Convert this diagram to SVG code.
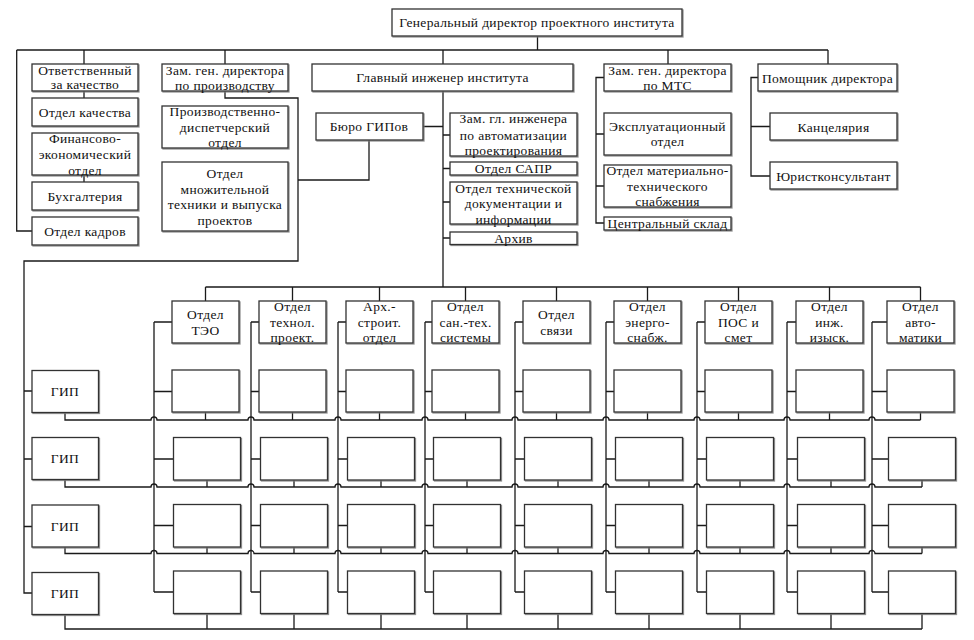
<svg xmlns="http://www.w3.org/2000/svg" width="974" height="640" viewBox="0 0 974 640">
<defs>
<filter id="sh" x="-5%" y="-5%" width="115%" height="125%"><feDropShadow dx="1" dy="1" stdDeviation="0.4" flood-color="#777" flood-opacity="0.8"/></filter>
<style>
.b{fill:#fff;stroke:#333;stroke-width:1.3;filter:url(#sh)}
.c{fill:none;stroke:#1a1a1a;stroke-width:1.3}
text{font-family:"Liberation Serif","DejaVu Serif",serif;font-size:13.5px;letter-spacing:0.35px;fill:#111;text-anchor:middle}
</style>
</defs>
<rect width="974" height="640" fill="#fff"/>
<g id="connectors" class="c">
<path d="M537.5 36V50M16.7 50H828M16.7 50V231H32M84 50V64M84 91V98M84 175V182M225 50V64M443 50V64M668 50V64M828 50V64"/>
<path d="M225 91V98H298V261H24V593H32M24 391H32M24 459H32M24 526.5H32M369 140V180H298"/>
<path d="M443 91V287M423 126.5H443M443 135H450M443 168.5H450M443 202H450M443 238H450"/>
<path d="M604 77.5H596V223H604M596 134H604M596 186H604"/>
<path d="M758 77.5H751V176H770M751 126.5H770"/>
<path d="M205.5 287H920.5M205.5 287V301M292.5 287V301M379.5 287V301M465.5 287V301M556.5 287V301M647.5 287V301M738.5 287V301M829.5 287V301M920.5 287V301"/>
<path d="M154 322V592M154 322H172M154 391.5H172M154 459H173.5M154 525.5H173.5M154 592H173.5"/>
<path d="M251 322V592M251 322H259M251 391.5H259M251 459H260.5M251 525.5H260.5M251 592H260.5"/>
<path d="M338 322V592M338 322H346M338 391.5H346M338 459H347.5M338 525.5H347.5M338 592H347.5"/>
<path d="M425 322V592M425 322H432M425 391.5H432M425 459H433.5M425 525.5H433.5M425 592H433.5"/>
<path d="M515 322V592M515 322H523M515 391.5H523M515 459H524.5M515 525.5H524.5M515 592H524.5"/>
<path d="M606 322V592M606 322H614M606 391.5H614M606 459H615.5M606 525.5H615.5M606 592H615.5"/>
<path d="M697 322V592M697 322H705M697 391.5H705M697 459H706.5M697 525.5H706.5M697 592H706.5"/>
<path d="M787 322V592M787 322H796M787 391.5H796M787 459H797.5M787 525.5H797.5M787 592H797.5"/>
<path d="M872 322V592M872 322H887M872 391.5H887M872 459H888.5M872 525.5H888.5M872 592H888.5"/>
<path d="M65 412.5V420H151A3 3 0 0 1 157 420H248A3 3 0 0 1 254 420H335A3 3 0 0 1 341 420H422A3 3 0 0 1 428 420H512A3 3 0 0 1 518 420H603A3 3 0 0 1 609 420H694A3 3 0 0 1 700 420H784A3 3 0 0 1 790 420H869A3 3 0 0 1 875 420H920.5M205.5 412V420M292.5 412V420M379.5 412V420M465.5 412V420M556.5 412V420M647.5 412V420M738.5 412V420M829.5 412V420M920.5 412V420"/>
<path d="M65 479.5V487H151A3 3 0 0 1 157 487H248A3 3 0 0 1 254 487H335A3 3 0 0 1 341 487H422A3 3 0 0 1 428 487H512A3 3 0 0 1 518 487H603A3 3 0 0 1 609 487H694A3 3 0 0 1 700 487H784A3 3 0 0 1 790 487H869A3 3 0 0 1 875 487H922M207 480V487M294 480V487M381 480V487M467 480V487M558 480V487M649 480V487M740 480V487M831 480V487M922 480V487"/>
<path d="M65 547V553.5H151A3 3 0 0 1 157 553.5H248A3 3 0 0 1 254 553.5H335A3 3 0 0 1 341 553.5H422A3 3 0 0 1 428 553.5H512A3 3 0 0 1 518 553.5H603A3 3 0 0 1 609 553.5H694A3 3 0 0 1 700 553.5H784A3 3 0 0 1 790 553.5H869A3 3 0 0 1 875 553.5H922M207 547V553.5M294 547V553.5M381 547V553.5M467 547V553.5M558 547V553.5M649 547V553.5M740 547V553.5M831 547V553.5M922 547V553.5"/>
<path d="M65 614.5V629H922M207 613.5V629M294 613.5V629M381 613.5V629M467 613.5V629M558 613.5V629M649 613.5V629M740 613.5V629M831 613.5V629M922 613.5V629"/>
</g>
<g font-family="Liberation Serif, DejaVu Serif, serif">
<g id="gen"><rect class="b" x="392" y="9" width="290" height="27"/><text x="537" y="27">Генеральный директор проектного института</text></g>
<g id="otv"><rect class="b" x="32" y="64" width="106" height="27"/><text x="85" y="75">Ответственный</text><text x="85" y="89">за качество</text></g>
<g id="kach"><rect class="b" x="32" y="98" width="106" height="28"/><text x="85" y="116.5">Отдел качества</text></g>
<g id="fin"><rect class="b" x="32" y="133" width="106" height="42"/><text x="85" y="143">Финансово-</text><text x="85" y="159">экономический</text><text x="85" y="175">отдел</text></g>
<g id="buh"><rect class="b" x="32" y="182" width="106" height="28"/><text x="85" y="200.5">Бухгалтерия</text></g>
<g id="kadr"><rect class="b" x="32" y="217" width="106" height="28"/><text x="85" y="235.5">Отдел кадров</text></g>
<g id="zamproizv"><rect class="b" x="162" y="64" width="126" height="27"/><text x="225" y="75">Зам. ген. директора</text><text x="225" y="90">по производству</text></g>
<g id="pdo"><rect class="b" x="162" y="106" width="126" height="42"/><text x="225" y="116">Производственно-</text><text x="225" y="132">диспетчерский</text><text x="225" y="147">отдел</text></g>
<g id="mnoz"><rect class="b" x="162" y="162" width="126" height="69"/><text x="225" y="178">Отдел</text><text x="225" y="194">множительной</text><text x="225" y="208.5">техники и выпуска</text><text x="225" y="224.5">проектов</text></g>
<g id="glav"><rect class="b" x="312" y="64" width="261" height="27"/><text x="442.5" y="82">Главный инженер института</text></g>
<g id="buro"><rect class="b" x="316" y="113" width="107" height="27"/><text x="369" y="131">Бюро ГИПов</text></g>
<g id="zamgl"><rect class="b" x="450" y="113" width="127" height="43"/><text x="513.5" y="123">Зам. гл. инженера</text><text x="513.5" y="139.5">по автоматизации</text><text x="513.5" y="154.5">проектирования</text></g>
<g id="sapr"><rect class="b" x="450" y="162" width="127" height="13"/><text x="513.5" y="173">Отдел САПР</text></g>
<g id="tehdok"><rect class="b" x="450" y="182" width="127" height="42"/><text x="513.5" y="193">Отдел технической</text><text x="513.5" y="208">документации и</text><text x="513.5" y="223.5">информации</text></g>
<g id="arhiv"><rect class="b" x="450" y="232" width="127" height="12.5"/><text x="513.5" y="242.5">Архив</text></g>
<g id="mts"><rect class="b" x="604" y="64" width="127" height="27"/><text x="667.5" y="75">Зам. ген. директора</text><text x="667.5" y="89.5">по МТС</text></g>
<g id="ekspl"><rect class="b" x="604" y="113" width="127" height="42"/><text x="667.5" y="130.5">Эксплуатационный</text><text x="667.5" y="146">отдел</text></g>
<g id="mat"><rect class="b" x="604" y="165" width="127" height="42"/><text x="667.5" y="175">Отдел материально-</text><text x="667.5" y="190.5">технического</text><text x="667.5" y="205.5">снабжения</text></g>
<g id="sklad"><rect class="b" x="604" y="217" width="127" height="13"/><text x="667.5" y="228">Центральный склад</text></g>
<g id="pom"><rect class="b" x="758" y="64" width="139" height="27"/><text x="827.5" y="83">Помощник директора</text></g>
<g id="kanc"><rect class="b" x="770" y="113" width="127" height="27"/><text x="833.5" y="131.5">Канцелярия</text></g>
<g id="jur"><rect class="b" x="770" y="162" width="127" height="27"/><text x="833.5" y="180.5">Юристконсультант</text></g>
<g id="d1"><rect class="b" x="172" y="301" width="67" height="42"/><text x="205.5" y="318.5">Отдел</text><text x="205.5" y="334.5">ТЭО</text></g>
<g id="d2"><rect class="b" x="259" y="301" width="67" height="42"/><text x="292.5" y="310.5">Отдел</text><text x="292.5" y="327">технол.</text><text x="292.5" y="342">проект.</text></g>
<g id="d3"><rect class="b" x="346" y="301" width="67" height="42"/><text x="379.5" y="310.5">Арх.-</text><text x="379.5" y="327">строит.</text><text x="379.5" y="342">отдел</text></g>
<g id="d4"><rect class="b" x="432" y="301" width="67" height="42"/><text x="465.5" y="310.5">Отдел</text><text x="465.5" y="327">сан.-тех.</text><text x="465.5" y="342">системы</text></g>
<g id="d5"><rect class="b" x="523" y="301" width="67" height="42"/><text x="556.5" y="318.5">Отдел</text><text x="556.5" y="334.5">связи</text></g>
<g id="d6"><rect class="b" x="614" y="301" width="67" height="42"/><text x="647.5" y="310.5">Отдел</text><text x="647.5" y="327">энерго-</text><text x="647.5" y="342">снабж.</text></g>
<g id="d7"><rect class="b" x="705" y="301" width="67" height="42"/><text x="738.5" y="310.5">Отдел</text><text x="738.5" y="327">ПОС и</text><text x="738.5" y="342">смет</text></g>
<g id="d8"><rect class="b" x="796" y="301" width="67" height="42"/><text x="829.5" y="310.5">Отдел</text><text x="829.5" y="327">инж.</text><text x="829.5" y="342">изыск.</text></g>
<g id="d9"><rect class="b" x="887" y="301" width="67" height="42"/><text x="920.5" y="310.5">Отдел</text><text x="920.5" y="327">авто-</text><text x="920.5" y="342">матики</text></g>
<g id="gip1"><rect class="b" x="32" y="370.5" width="66.5" height="42"/><text x="65" y="396">ГИП</text></g>
<g id="gip2"><rect class="b" x="32" y="437.5" width="66.5" height="42"/><text x="65" y="463">ГИП</text></g>
<g id="gip3"><rect class="b" x="32" y="505" width="66.5" height="42"/><text x="65" y="530.5">ГИП</text></g>
<g id="gip4"><rect class="b" x="32" y="572.5" width="66.5" height="42"/><text x="65" y="598">ГИП</text></g>
</g>
<g id="row1">
<rect class="b" x="172" y="370" width="67" height="42"/><rect class="b" x="259" y="370" width="67" height="42"/><rect class="b" x="346" y="370" width="67" height="42"/><rect class="b" x="432" y="370" width="67" height="42"/><rect class="b" x="523" y="370" width="67" height="42"/><rect class="b" x="614" y="370" width="67" height="42"/><rect class="b" x="705" y="370" width="67" height="42"/><rect class="b" x="796" y="370" width="67" height="42"/><rect class="b" x="887" y="370" width="67" height="42"/>
</g>
<g id="row2">
<rect class="b" x="173.5" y="437.5" width="67" height="42.5"/><rect class="b" x="260.5" y="437.5" width="67" height="42.5"/><rect class="b" x="347.5" y="437.5" width="67" height="42.5"/><rect class="b" x="433.5" y="437.5" width="67" height="42.5"/><rect class="b" x="524.5" y="437.5" width="67" height="42.5"/><rect class="b" x="615.5" y="437.5" width="67" height="42.5"/><rect class="b" x="706.5" y="437.5" width="67" height="42.5"/><rect class="b" x="797.5" y="437.5" width="67" height="42.5"/><rect class="b" x="888.5" y="437.5" width="67" height="42.5"/>
</g>
<g id="row3">
<rect class="b" x="173.5" y="504.5" width="67" height="42.5"/><rect class="b" x="260.5" y="504.5" width="67" height="42.5"/><rect class="b" x="347.5" y="504.5" width="67" height="42.5"/><rect class="b" x="433.5" y="504.5" width="67" height="42.5"/><rect class="b" x="524.5" y="504.5" width="67" height="42.5"/><rect class="b" x="615.5" y="504.5" width="67" height="42.5"/><rect class="b" x="706.5" y="504.5" width="67" height="42.5"/><rect class="b" x="797.5" y="504.5" width="67" height="42.5"/><rect class="b" x="888.5" y="504.5" width="67" height="42.5"/>
</g>
<g id="row4">
<rect class="b" x="173.5" y="571" width="67" height="42.5"/><rect class="b" x="260.5" y="571" width="67" height="42.5"/><rect class="b" x="347.5" y="571" width="67" height="42.5"/><rect class="b" x="433.5" y="571" width="67" height="42.5"/><rect class="b" x="524.5" y="571" width="67" height="42.5"/><rect class="b" x="615.5" y="571" width="67" height="42.5"/><rect class="b" x="706.5" y="571" width="67" height="42.5"/><rect class="b" x="797.5" y="571" width="67" height="42.5"/><rect class="b" x="888.5" y="571" width="67" height="42.5"/>
</g>
</svg>
